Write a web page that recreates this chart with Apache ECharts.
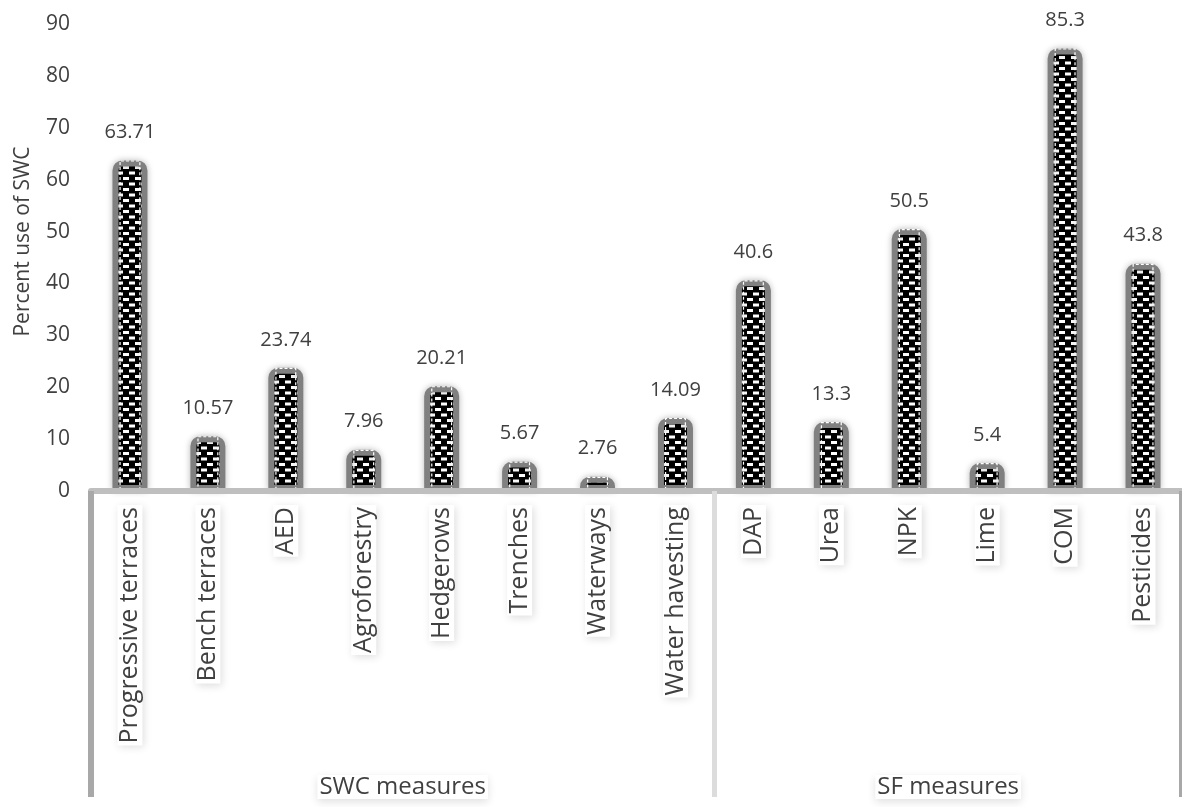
<!DOCTYPE html>
<html>
<head>
<meta charset="utf-8">
<script src="https://cdn.jsdelivr.net/npm/echarts@6/dist/echarts.min.js"></script>
<style>
html,body{margin:0;padding:0;background:#fff;}
#chart{width:1182px;height:807px;}
</style>
</head>
<body>
<div id="chart"></div>
<script>
const categories = ['Progressive terraces','Bench terraces','AED','Agroforestry','Hedgerows','Trenches','Waterways','Water havesting','DAP','Urea','NPK','Lime','COM','Pesticides'];
const values = [63.71, 10.57, 23.74, 7.96, 20.21, 5.67, 2.76, 14.09, 40.6, 13.3, 50.5, 5.4, 85.3, 43.8];
const groupNames = ['SWC measures', 'SF measures'];
const groupCenters = [4, 11];      // centre of each group, in category units
const groupBoundaries = [0, 8];    // category index where each group starts
const yTicks = {min: 0, max: 90, interval: 10};
const yName = 'Percent use of SWC';

const FONT = '"Open Sans", "DejaVu Sans", sans-serif';
const TXT = '#404040';

// brick pattern fill
const tile = document.createElement('canvas');
tile.width = 12; tile.height = 11;
const c = tile.getContext('2d');
c.fillStyle = '#000'; c.fillRect(0, 0, 12, 11);
c.fillStyle = '#fff';
c.fillRect(3, 1, 6, 3);
c.fillRect(0, 6.5, 3, 3);
c.fillRect(9, 6.5, 3, 3);

const chart = echarts.init(document.getElementById('chart'));
chart.setOption({
  backgroundColor: '#fff',
  animation: false,
  grid: {left: 91, right: -9, top: 24, bottom: 316, containLabel: false},
  xAxis: [
    {
      type: 'category', data: categories, position: 'bottom', z: 10,
      axisLine: {show: true, lineStyle: {color: '#bfbfbf', width: 6}},
      axisTick: {
        show: true, length: 306,
        interval: function (idx) { return groupBoundaries.indexOf(idx) >= 0; },
        lineStyle: {color: '#dcdcdc', width: 5}
      },
      axisLabel: {
        interval: 0, rotate: 90, margin: 14, fontSize: 25, fontFamily: FONT, color: TXT,
        backgroundColor: '#fff', padding: [0, 2],
        shadowColor: 'rgba(0,0,0,0.13)', shadowBlur: 8, shadowOffsetX: 2, shadowOffsetY: 2
      }
    },
    {
      type: 'value', min: 0, max: categories.length, position: 'bottom', offset: 278,
      axisLine: {show: false}, axisTick: {show: false}, splitLine: {show: false},
      axisLabel: {
        customValues: groupCenters,
        formatter: function (v) { return groupNames[groupCenters.indexOf(v)] || ''; },
        margin: 6, fontSize: 24, fontFamily: FONT, color: TXT,
        backgroundColor: '#fff', padding: [0, 2],
        shadowColor: 'rgba(0,0,0,0.12)', shadowBlur: 8, shadowOffsetY: 3
      }
    },
    {
      type: 'category', data: categories, position: 'bottom', z: 11,
      axisLine: {show: false}, axisLabel: {show: false}, splitLine: {show: false},
      axisTick: {
        show: true, length: 306,
        interval: function (idx) { return idx === groupBoundaries[0]; },
        lineStyle: {color: '#a8a8a8', width: 6}
      }
    }
  ],
  yAxis: {
    type: 'value', min: yTicks.min, max: yTicks.max, interval: yTicks.interval,
    name: yName, nameLocation: 'middle', nameGap: 57, nameRotate: 90, nameMoveOverlap: false,
    nameTextStyle: {fontSize: 21, fontFamily: FONT, color: TXT, padding: [0, 0, 0, 32]},
    axisLine: {show: false}, axisTick: {show: false}, splitLine: {show: false},
    axisLabel: {fontSize: 21, fontFamily: FONT, color: TXT, margin: 21}
  },
  series: [
    {
      type: 'bar', xAxisIndex: 0, data: values, barWidth: 35,
      itemStyle: {
        color: {image: tile, repeat: 'repeat'},
        borderColor: '#808080', borderWidth: 6, borderRadius: [7, 7, 0, 0],
        shadowColor: 'rgba(0,0,0,0.22)', shadowBlur: 7
      },
      label: {show: true, position: 'top', distance: 18, fontSize: 20, fontFamily: FONT, color: TXT,
        formatter: function (p) { return String(p.value); }}
    },
    {
      type: 'bar', xAxisIndex: 2, data: values, barWidth: 21, silent: true,
      itemStyle: {color: 'transparent', borderColor: '#fff', borderType: [3, 2], borderWidth: 1.2}
    }
  ]
});
</script>
</body>
</html>
